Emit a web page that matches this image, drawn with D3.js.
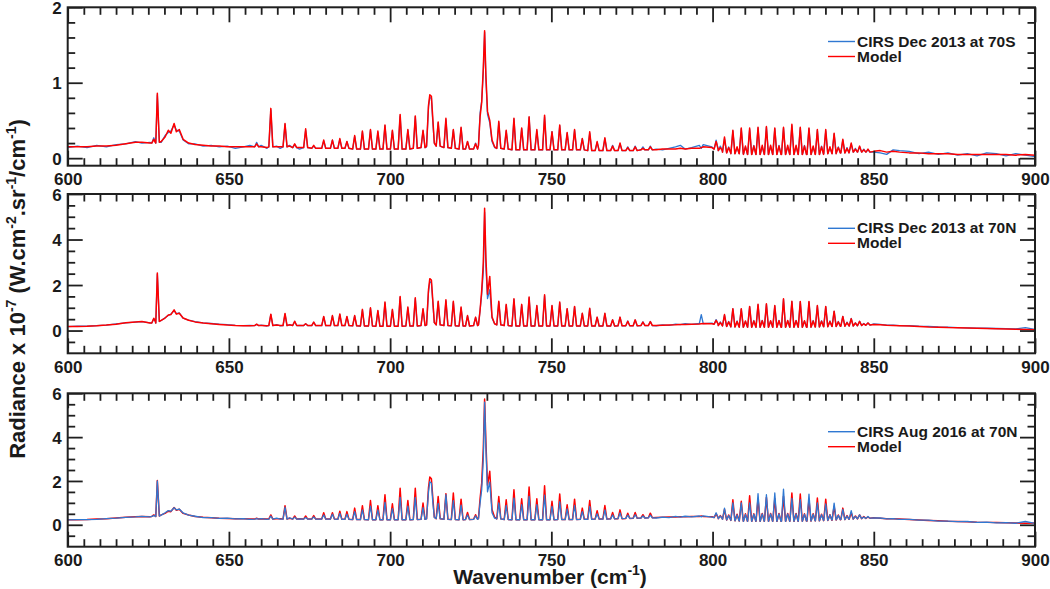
<!DOCTYPE html>
<html><head><meta charset="utf-8">
<script src="https://cdn.jsdelivr.net/npm/d3@7"></script>
<style>
body{margin:0;background:#fff}
svg text{font-family:"Liberation Sans",Arial,Helvetica,sans-serif;font-weight:bold;fill:#1a1a1a}
</style>
</head><body>
<svg id="chart" width="1050" height="589"></svg>
<script>
// ---------- DATA ----------
// Emission line centres (cm-1), shared by all three panels
const lineWn = [
 626.7, 627.8, 658.6, 663.0, 667.4, 670.4, 673.8, 676.3, 679.4, 682.1, 684.4, 686.6,
 689.0, 691.4, 693.9, 696.2, 698.4, 700.7, 703.1, 705.5, 707.8, 710.2,
 714.9, 717.3, 719.6, 722.0, 724.0, 726.5,
 733.7, 736.0, 738.4, 740.8, 743.1, 745.5, 747.9, 750.2, 752.6, 754.9,
 757.2, 759.6, 761.9, 764.2, 766.6, 769.0, 771.3, 773.7, 776.0, 778.4, 780.7,
 801.1, 802.4, 803.7, 805.0, 806.3, 807.6, 808.9, 810.2, 811.5, 812.8,
 814.1, 815.4, 816.7, 818.0, 819.3, 820.6, 822.0, 823.3, 824.6, 825.9,
 827.2, 828.5, 829.9, 831.2, 832.5, 833.8, 835.1, 836.4, 837.7, 839.0,
 840.4, 841.7, 843.0, 844.3, 845.6, 846.9, 848.2];
// Continuum / band-shape sample positions (cm-1)
const contWn = [
 600, 603, 606, 609, 612, 615, 618, 621, 623, 625.5,
 629.0, 630.2, 631.2, 632.0, 633.0, 633.7, 634.6, 635.8, 637.5, 639.5, 642, 644.5, 647, 649.5, 652, 654.5, 656.5,
 660.0, 661.8, 664.8, 665.9, 668.8, 671.9,
 711.3, 711.9, 712.3, 712.8, 713.2, 713.7,
 727.4, 727.9, 728.4, 728.9, 729.3, 729.7, 730.2, 730.9, 731.6, 732.4,
 782.5, 784.5, 786.5, 788.5, 790.0, 791.5, 793.5, 795.9, 796.5, 797.1, 799.8,
 850, 852, 854, 856, 858, 861, 864, 867, 870, 873, 876, 879, 882, 885, 888, 891, 894, 897, 900];

const xTickValues = [600, 650, 700, 750, 800, 850, 900];
const legendLabels = ["CIRS Dec 2013 at 70S", "CIRS Dec 2013 at 70N", "CIRS Aug 2016 at 70N"];
const yTickValues = [[0, 1, 2], [0, 2, 4, 6], [0, 2, 4, 6]];

// ----- Panel 1 : CIRS Dec 2013 at 70S -----
const p1Floor = [
 0.20,0.21,0.15,0.15,0.15,0.14,0.14,0.13,0.13,0.13,0.13,0.13,
 0.12,0.12,0.12,0.12,0.12,0.12,0.12,0.12,0.13,0.14,
 0.16,0.14,0.13,0.12,0.12,0.12,
 0.13,0.12,0.11,0.11,0.11,0.11,0.11,0.11,0.11,0.11,
 0.11,0.11,0.10,0.10,0.10,0.10,0.10,0.10,0.10,0.11,0.11,
 0.12,0.10,0.08,0.07,0.06,0.06,0.06,0.05,0.05,0.05,
 0.05,0.05,0.05,0.05,0.05,0.05,0.05,0.05,0.05,0.05,
 0.05,0.05,0.05,0.05,0.05,0.05,0.06,0.06,0.06,0.07,
 0.07,0.07,0.08,0.08,0.08,0.08,0.08];
const p1ModelPeak = [
 0.25,0.86,0.19,0.66,0.46,0.19,0.39,0.17,0.24,0.24,0.26,0.22,
 0.30,0.36,0.38,0.36,0.44,0.37,0.58,0.38,0.56,0.37,
 0.48,0.53,0.38,0.41,0.22,0.19,
 0.49,0.37,0.53,0.40,0.55,0.38,0.57,0.35,0.44,0.34,
 0.38,0.26,0.35,0.22,0.27,0.16,0.20,0.14,0.15,0.13,0.15,
 0.22,0.14,0.28,0.14,0.37,0.15,0.40,0.16,0.40,0.16,
 0.41,0.17,0.42,0.17,0.40,0.16,0.41,0.17,0.45,0.17,
 0.41,0.16,0.40,0.16,0.38,0.15,0.38,0.15,0.33,0.14,
 0.25,0.13,0.20,0.12,0.16,0.11,0.12];
const p1CirsPeak = [
 0.27,0.84,0.21,0.64,0.45,0.18,0.37,0.16,0.23,0.24,0.25,0.22,
 0.29,0.35,0.37,0.34,0.43,0.36,0.56,0.37,0.55,0.36,
 0.47,0.51,0.37,0.40,0.22,0.20,
 0.47,0.36,0.52,0.39,0.54,0.36,0.55,0.35,0.43,0.33,
 0.37,0.26,0.33,0.21,0.26,0.17,0.19,0.15,0.16,0.15,0.16,
 0.24,0.16,0.26,0.15,0.36,0.14,0.39,0.15,0.38,0.17,
 0.40,0.15,0.41,0.16,0.39,0.17,0.40,0.15,0.43,0.16,
 0.40,0.17,0.39,0.15,0.37,0.16,0.36,0.14,0.32,0.15,
 0.24,0.14,0.19,0.13,0.15,0.12,0.11];
const p1ModelCont = [
 0.15,0.15,0.15,0.16,0.16,0.17,0.19,0.21,0.21,0.20,
 0.22,0.28,0.37,0.33,0.46,0.35,0.38,0.25,0.20,0.18,0.17,0.16,0.16,0.15,0.15,0.15,0.15,
 0.15,0.14,0.15,0.15,0.16,0.14,
 0.16,0.70,0.84,0.82,0.55,0.20,
 0.17,0.55,0.74,1.20,1.69,1.10,0.62,0.50,0.24,0.15,
 0.11,0.12,0.12,0.12,0.13,0.12,0.13,0.13,0.14,0.15,0.14,
 0.09,0.10,0.08,0.09,0.08,0.07,0.07,0.06,0.06,0.06,0.05,0.05,0.05,0.05,0.05,0.05,0.04,0.05,0.04];
const p1CirsCont = [
 0.14,0.16,0.14,0.17,0.15,0.18,0.19,0.22,0.20,0.21,
 0.21,0.30,0.34,0.36,0.44,0.37,0.36,0.24,0.19,0.19,0.16,0.17,0.15,0.16,0.13,0.15,0.17,
 0.17,0.13,0.16,0.13,0.17,0.12,
 0.15,0.68,0.80,0.80,0.50,0.20,
 0.17,0.60,0.76,1.15,1.67,1.05,0.58,0.47,0.22,0.14,
 0.12,0.11,0.13,0.15,0.17,0.12,0.14,0.17,0.13,0.18,0.15,
 0.08,0.07,0.05,0.11,0.10,0.09,0.06,0.08,0.05,0.07,0.04,0.06,0.03,0.07,0.06,0.03,0.06,0.04,0.02];

// ----- Panel 2 : CIRS Dec 2013 at 70N -----
const p2Floor = [
 0.33,0.40,0.22,0.22,0.22,0.22,0.22,0.22,0.22,0.22,0.22,0.22,
 0.21,0.20,0.20,0.19,0.19,0.19,0.19,0.20,0.20,0.22,
 0.25,0.22,0.21,0.20,0.20,0.22,
 0.25,0.22,0.20,0.20,0.20,0.20,0.20,0.20,0.20,0.20,
 0.20,0.20,0.20,0.20,0.20,0.20,0.21,0.21,0.21,0.22,0.22,
 0.28,0.22,0.20,0.18,0.16,0.16,0.15,0.15,0.15,0.15,
 0.15,0.15,0.15,0.15,0.15,0.15,0.15,0.15,0.15,0.15,
 0.15,0.15,0.15,0.16,0.16,0.17,0.17,0.18,0.18,0.19,
 0.19,0.20,0.20,0.21,0.22,0.23,0.24];
const p2ModelPeak = [
 0.54,2.53,0.28,0.72,0.75,0.41,0.30,0.37,0.62,0.66,0.73,0.62,
 0.66,0.93,1.00,0.88,1.25,0.93,1.50,1.03,1.44,0.96,
 1.29,1.35,1.29,1.03,0.66,0.59,
 1.29,1.15,1.40,1.15,1.47,1.10,1.57,1.10,1.25,0.96,
 1.06,0.76,0.98,0.59,0.76,0.47,0.59,0.41,0.47,0.37,0.39,
 0.45,0.35,0.70,0.38,0.96,0.40,0.96,0.42,1.06,0.42,
 1.15,0.43,1.18,0.43,1.10,0.43,1.40,0.44,1.29,0.43,
 1.28,0.43,1.28,0.42,1.10,0.41,1.06,0.40,0.85,0.38,
 0.62,0.35,0.52,0.33,0.40,0.30,0.33];
const p2CirsPeak = [
 0.52,2.48,0.27,0.70,0.72,0.40,0.30,0.36,0.60,0.64,0.70,0.60,
 0.64,0.90,0.98,0.86,1.22,0.90,1.46,1.00,1.40,0.94,
 1.25,1.30,1.25,1.00,0.64,0.57,
 1.25,1.12,1.37,1.12,1.43,1.08,1.53,1.08,1.22,0.95,
 1.04,0.75,0.96,0.58,0.74,0.47,0.58,0.42,0.46,0.38,0.40,
 0.48,0.38,0.68,0.40,0.95,0.42,0.94,0.40,1.04,0.44,
 1.13,0.45,1.15,0.41,1.08,0.45,1.37,0.42,1.27,0.45,
 1.26,0.41,1.25,0.44,1.08,0.43,1.04,0.42,0.84,0.40,
 0.62,0.37,0.53,0.34,0.41,0.31,0.34];
const p2ModelCont = [
 0.18,0.18,0.19,0.21,0.24,0.28,0.34,0.38,0.40,0.33,
 0.45,0.55,0.68,0.70,0.91,0.72,0.76,0.55,0.45,0.38,0.33,0.30,0.27,0.24,0.22,0.21,0.21,
 0.22,0.21,0.24,0.22,0.25,0.22,
 0.25,1.80,2.28,2.22,1.40,0.35,
 0.25,0.90,1.76,3.00,5.37,3.20,1.60,2.38,0.60,0.30,
 0.22,0.23,0.24,0.25,0.27,0.27,0.28,0.29,0.30,0.31,0.30,
 0.27,0.25,0.23,0.22,0.21,0.20,0.18,0.16,0.15,0.13,0.12,0.11,0.10,0.09,0.08,0.07,0.06,0.05,0.04];
const p2CirsCont = [
 0.17,0.19,0.19,0.22,0.24,0.29,0.34,0.37,0.39,0.34,
 0.44,0.56,0.66,0.72,0.88,0.74,0.78,0.54,0.46,0.39,0.34,0.31,0.28,0.26,0.23,0.22,0.23,
 0.24,0.20,0.26,0.21,0.26,0.23,
 0.24,1.70,2.15,2.10,1.30,0.35,
 0.25,0.90,1.60,2.60,5.20,2.80,1.40,1.80,0.55,0.30,
 0.21,0.25,0.23,0.28,0.26,0.30,0.27,0.31,0.70,0.30,0.33,
 0.29,0.27,0.24,0.24,0.22,0.22,0.19,0.18,0.16,0.15,0.13,0.12,0.11,0.10,0.09,0.08,0.07,0.13,0.05];

// ----- Panel 3 : CIRS Aug 2016 at 70N -----
const p3Floor = [
 0.38,0.40,0.26,0.26,0.26,0.26,0.26,0.26,0.26,0.26,0.25,0.25,
 0.24,0.24,0.23,0.23,0.23,0.23,0.23,0.23,0.24,0.25,
 0.28,0.25,0.24,0.23,0.24,0.25,
 0.27,0.24,0.23,0.23,0.23,0.23,0.23,0.23,0.24,0.24,
 0.24,0.25,0.25,0.26,0.26,0.27,0.28,0.29,0.30,0.31,0.32,
 0.33,0.28,0.25,0.22,0.20,0.18,0.17,0.16,0.16,0.16,
 0.16,0.16,0.16,0.16,0.16,0.16,0.16,0.16,0.16,0.16,
 0.16,0.17,0.17,0.18,0.18,0.19,0.20,0.21,0.22,0.23,
 0.24,0.25,0.26,0.27,0.28,0.29,0.30];
const p3ModelPeak = [
 0.45,2.02,0.30,0.45,0.87,0.40,0.40,0.42,0.55,0.55,0.62,0.60,
 0.76,0.87,1.11,0.87,1.37,0.96,1.67,1.11,1.67,0.99,
 1.29,1.42,1.45,1.17,0.56,0.46,
 1.29,1.14,1.60,1.19,1.72,1.19,1.78,1.07,1.40,0.91,
 1.17,0.76,1.11,0.64,0.88,0.56,0.68,0.53,0.56,0.46,0.53,
 0.50,0.42,0.70,0.45,1.14,0.48,1.07,0.50,1.32,0.50,
 1.20,0.52,1.25,0.52,1.20,0.52,1.30,0.52,1.45,0.52,
 1.40,0.50,1.15,0.50,1.22,0.48,1.17,0.46,0.85,0.45,
 0.76,0.42,0.55,0.40,0.45,0.38,0.35];
const p3CirsPeak = [
 0.42,2.00,0.28,0.40,0.80,0.35,0.33,0.36,0.45,0.48,0.52,0.48,
 0.60,0.68,0.85,0.68,1.02,0.74,1.25,0.85,1.25,0.78,
 0.98,1.37,1.10,0.90,0.45,0.40,
 1.00,0.88,1.22,0.92,1.30,0.92,1.35,0.84,1.05,0.72,
 0.88,0.60,0.84,0.50,0.68,0.45,0.54,0.44,0.46,0.40,0.44,
 0.55,0.40,0.76,0.42,1.00,0.45,1.00,0.47,1.00,0.48,
 1.42,0.50,1.37,0.50,1.45,0.50,1.63,0.50,1.20,0.50,
 1.15,0.48,1.40,0.48,1.00,0.46,0.95,0.45,0.99,0.43,
 0.70,0.40,0.65,0.38,0.45,0.36,0.38];
const p3ModelCont = [
 0.23,0.23,0.24,0.26,0.28,0.31,0.34,0.37,0.38,0.37,
 0.45,0.52,0.62,0.60,0.79,0.66,0.71,0.52,0.45,0.38,0.34,0.32,0.30,0.29,0.28,0.27,0.26,
 0.27,0.26,0.28,0.27,0.30,0.28,
 0.28,1.70,2.18,2.10,1.30,0.35,
 0.30,1.20,1.90,3.50,5.74,3.80,1.80,2.44,0.70,0.35,
 0.33,0.34,0.35,0.36,0.37,0.37,0.38,0.38,0.40,0.38,0.37,
 0.32,0.30,0.28,0.27,0.26,0.24,0.22,0.20,0.18,0.16,0.15,0.14,0.12,0.11,0.10,0.09,0.08,0.07,0.08];
const p3CirsCont = [
 0.22,0.24,0.24,0.25,0.28,0.30,0.34,0.36,0.38,0.36,
 0.44,0.55,0.65,0.62,0.78,0.68,0.72,0.54,0.44,0.39,0.33,0.33,0.29,0.30,0.27,0.28,0.25,
 0.28,0.25,0.30,0.26,0.32,0.27,
 0.27,1.50,1.97,1.90,1.10,0.33,
 0.28,1.00,1.60,3.00,5.60,3.50,1.50,1.95,0.55,0.30,
 0.31,0.35,0.33,0.38,0.35,0.39,0.36,0.40,0.36,0.41,0.35,
 0.31,0.31,0.27,0.28,0.25,0.25,0.21,0.21,0.17,0.17,0.14,0.15,0.11,0.12,0.09,0.10,0.07,0.15,0.06];

// ---------- LAYOUT / STYLE ----------
const X0 = 67.7, X1 = 1035;
const HW = 0.62;               // drawn half-width of each emission line (cm-1)
const INK = "#1f1f1f";
const BLUE = "#2f78d2", RED = "#ff0000";

const panels = [
 {top: 7.3,  bottom: 165.7, dom: [-0.1, 2], minorStep: 0.2, legY: 46.5,
  floor: p1Floor, model: [p1ModelPeak, p1ModelCont], cirs: [p1CirsPeak, p1CirsCont], cirsOnTop: false},
 {top: 194,  bottom: 353.3, dom: [-1, 6],   minorStep: 0.5, legY: 233.3,
  floor: p2Floor, model: [p2ModelPeak, p2ModelCont], cirs: [p2CirsPeak, p2CirsCont], cirsOnTop: false},
 {top: 393.3,bottom: 546.7, dom: [-1, 6],   minorStep: 0.5, legY: 436.7,
  floor: p3Floor, model: [p3ModelPeak, p3ModelCont], cirs: [p3CirsPeak, p3CirsCont], cirsOnTop: true}
];

const svg = d3.select("#chart");
const x = d3.scaleLinear().domain([600, 900]).range([X0, X1]);

function spectrum(peaks, floors, cont) {
  const pts = lineWn.flatMap((w, i) => [[w - HW, floors[i]], [w, peaks[i]], [w + HW, floors[i]]]);
  contWn.forEach((w, i) => pts.push([w, cont[i]]));
  return pts.sort((a, b) => a[0] - b[0]);
}

function styleAxis(g) {
  g.attr("font-family", '"Liberation Sans",Arial,sans-serif').attr("font-size", 17).attr("font-weight", "bold");
  g.select(".domain").remove();
  g.selectAll("line").attr("stroke", INK).attr("stroke-width", 1.8);
  g.selectAll("text").attr("fill", INK);
}

const xMinor = d3.range(600, 900.01, 5).filter(v => v % 50 !== 0);

panels.forEach((p, k) => {
  const y = d3.scaleLinear().domain(p.dom).range([p.bottom, p.top]);
  const g = svg.append("g");
  const clipId = "clip" + k;
  svg.append("clipPath").attr("id", clipId).append("rect")
    .attr("x", X0).attr("y", p.top).attr("width", X1 - X0).attr("height", p.bottom - p.top);

  const line = d3.line().x(d => x(d[0])).y(d => y(d[1]));
  const modelPts = spectrum(p.model[0], p.floor, p.model[1]);
  const cirsPts = spectrum(p.cirs[0], p.floor, p.cirs[1]);
  const series = p.cirsOnTop
    ? [[modelPts, RED, 1.5], [cirsPts, BLUE, 1.3]]
    : [[cirsPts, BLUE, 1.3], [modelPts, RED, 1.5]];
  const lg = g.append("g").attr("clip-path", `url(#${clipId})`);
  series.forEach(([pts, col, sw]) => {
    lg.append("path").datum(pts).attr("d", line).attr("fill", "none")
      .attr("stroke", col).attr("stroke-width", sw).attr("stroke-linejoin", "round");
  });

  const yMajor = yTickValues[k];
  const yMinor = d3.range(p.minorStep === 0.5 ? -0.5 : 0, p.dom[1] + 1e-9, p.minorStep)
    .map(v => +v.toFixed(2)).filter(v => !yMajor.includes(v) && v < p.dom[1]);

  // bottom axis
  g.append("g").attr("transform", `translate(0,${p.bottom})`)
    .call(d3.axisBottom(x).tickValues(xTickValues).tickSizeInner(-15).tickSizeOuter(0).tickPadding(7.5).tickFormat(d3.format("d")))
    .call(styleAxis);
  g.append("g").attr("transform", `translate(0,${p.bottom})`)
    .call(d3.axisBottom(x).tickValues(xMinor).tickSizeInner(-7.5).tickSizeOuter(0).tickFormat(""))
    .call(styleAxis);
  // top axis
  g.append("g").attr("transform", `translate(0,${p.top})`)
    .call(d3.axisTop(x).tickValues(xTickValues).tickSizeInner(-15).tickSizeOuter(0).tickFormat(""))
    .call(styleAxis);
  g.append("g").attr("transform", `translate(0,${p.top})`)
    .call(d3.axisTop(x).tickValues(xMinor).tickSizeInner(-7.5).tickSizeOuter(0).tickFormat(""))
    .call(styleAxis);
  // left axis
  g.append("g").attr("transform", `translate(${X0},0)`)
    .call(d3.axisLeft(y).tickValues(yMajor).tickSizeInner(-15).tickSizeOuter(0).tickPadding(6).tickFormat(d3.format("d")))
    .call(styleAxis)
    .call(a => a.selectAll("text").attr("dy", "0.36em"));
  g.append("g").attr("transform", `translate(${X0},0)`)
    .call(d3.axisLeft(y).tickValues(yMinor).tickSizeInner(-7.5).tickSizeOuter(0).tickFormat(""))
    .call(styleAxis);
  // right axis
  g.append("g").attr("transform", `translate(${X1},0)`)
    .call(d3.axisRight(y).tickValues(yMajor).tickSizeInner(-15).tickSizeOuter(0).tickFormat(""))
    .call(styleAxis);
  g.append("g").attr("transform", `translate(${X1},0)`)
    .call(d3.axisRight(y).tickValues(yMinor).tickSizeInner(-7.5).tickSizeOuter(0).tickFormat(""))
    .call(styleAxis);

  // frame
  g.append("rect").attr("x", X0).attr("y", p.top).attr("width", X1 - X0).attr("height", p.bottom - p.top)
    .attr("fill", "none").attr("stroke", INK).attr("stroke-width", 2);

  // legend
  const leg = g.append("g");
  [[legendLabels[k], BLUE], ["Model", RED]].forEach(([txt, col], i) => {
    const by = p.legY + i * 15;
    leg.append("line").attr("x1", 828).attr("x2", 855).attr("y1", by - 5).attr("y2", by - 5)
      .attr("stroke", col).attr("stroke-width", 1.4);
    leg.append("text").attr("x", 857).attr("y", by).attr("font-size", 15.5).text(txt);
  });
});

// x title
const xt = svg.append("text").attr("x", 550).attr("y", 584).attr("text-anchor", "middle").attr("font-size", 21);
xt.append("tspan").text("Wavenumber (cm");
xt.append("tspan").attr("font-size", 14).attr("dy", -9).text("-1");
xt.append("tspan").attr("dy", 9).text(")");

// y title
const yt = svg.append("text").attr("transform", "translate(25,289) rotate(-90)").attr("text-anchor", "middle").attr("font-size", 22);
[["Radiance x 10", 0], ["-7", 1], [" (W.cm", 0], ["-2", 1], [".sr", 0], ["-1", 1], ["/cm", 0], ["-1", 1], [")", 0]]
  .forEach(([t, sup], i, arr) => {
    const prevSup = i > 0 ? arr[i - 1][1] : 0;
    const dy = sup && !prevSup ? -9 : (!sup && prevSup ? 9 : 0);
    yt.append("tspan").attr("font-size", sup ? 14 : 22).attr("dy", dy).text(t);
  });
</script>
</body></html>
